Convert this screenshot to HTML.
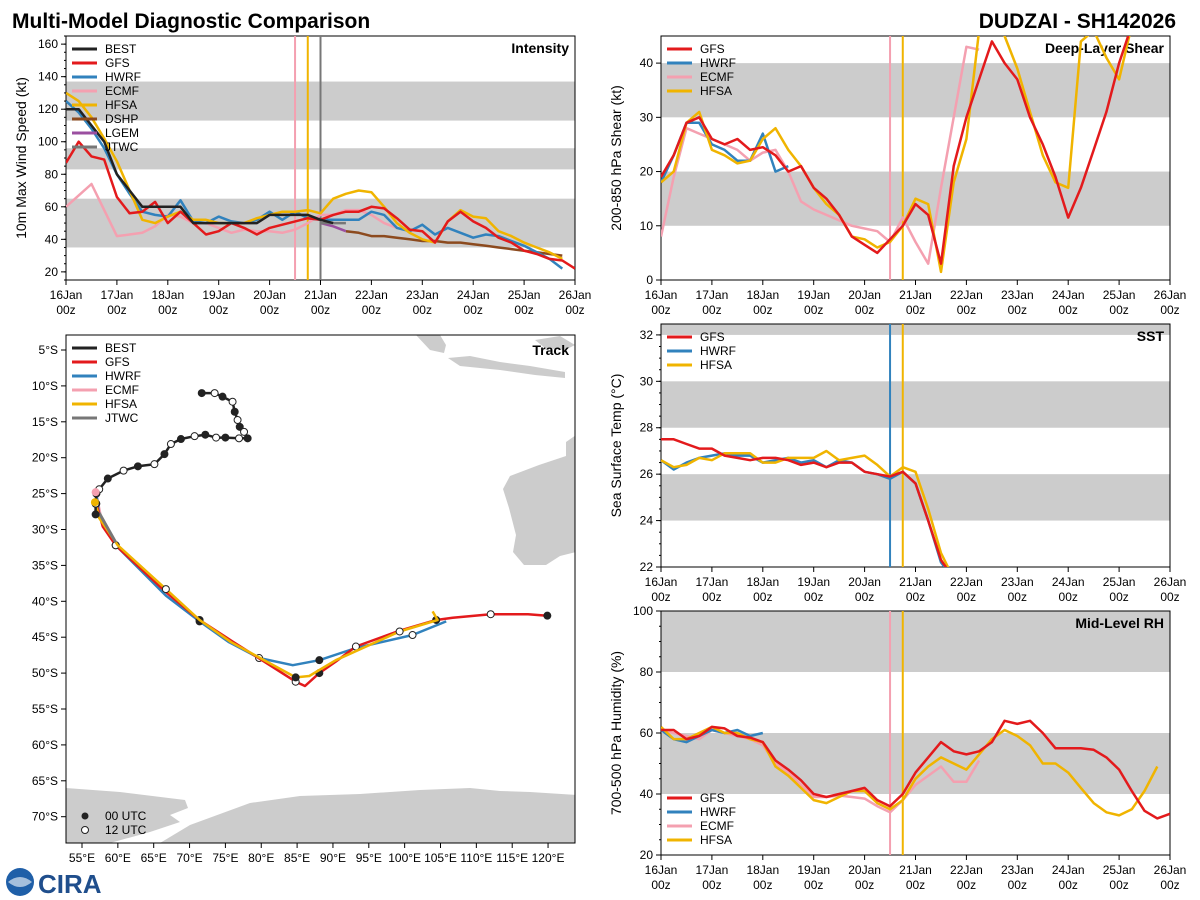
<!DOCTYPE html>
<html><head><meta charset="utf-8">
<style>
html,body{margin:0;padding:0;background:#fff;}
svg{display:block;font-family:"Liberation Sans","DejaVu Sans",sans-serif;}
</style></head>
<body>
<svg id="fig" width="1200" height="900" viewBox="0 0 1200 900" xmlns="http://www.w3.org/2000/svg">
<text x="12" y="28" font-size="21" font-weight="bold" fill="#000">Multi-Model Diagnostic Comparison</text>
<text x="1176" y="28" font-size="21" font-weight="bold" fill="#000" text-anchor="end">DUDZAI - SH142026</text>
<g id="layer"></g>
<g>
<circle cx="20" cy="882" r="14" fill="#1f5fa8"/>
<path d="M8 882 Q20 872 32 882 Q20 892 8 882" fill="#fff" opacity="0.6"/>
<text x="38" y="893" font-size="26" font-weight="bold" fill="#1f4e8c">CIRA</text>
</g>
</svg>
<script>
// ---------- DATA ----------
const days = ["16Jan","17Jan","18Jan","19Jan","20Jan","21Jan","22Jan","23Jan","24Jan","25Jan","26Jan"];
const intTicks = [20,40,60,80,100,120,140,160];
const intBEST = [120,120,110,100,80,70,60,60,60,60,50,50,50,50,50,50,55,55,55,55,52,50];
const intGFS = [87,100,91,89,66,56,57,63,50,57,50,43,45,50,47,43,47,49,51,53,52,55,57,57,60,59,53,46,45,38,51,57,51,47,41,38,33,31,28,27,22];
const intHWRF = [125,118,108,96,80,68,57,55,54,64,51,50,54,51,50,52,57,52,57,53,52,52,52,52,57,55,47,45,49,43,47,44,41,43,42,39,36,32,28,22];
const intECMF = [60,67,74,58,42,43,44,48,55,54,50,50,47,44,46,45,45,44,46,50,55,55,58,58,55,50,47];
const intHFSA = [130,125,115,102,88,70,52,50,54,57,52,52,50,50,50,53,55,57,57,58,56,65,68,70,69,60,50,44,40,38,51,58,54,53,45,42,38,35,32,28];
const intDSHP = [45,44,42,42,41,40,39,39,38,38,37,36,35,34,33,32,31,30];
const dshpStart = 5.5;
const intLGEM = [50,48,45];
const lgemStart = 5.0;
const intJTWC = [50,50,50];
const jtwcStart = 5.0;

const shrTicks = [0,10,20,30,40];
const shrGFS = [19,23,29,30,26,25,26,24,24.5,23,20,21,17,15,12,8,6.5,5,7.5,10,14,12,3,21,30,37,44,40,37,30,25,19,11.5,17,24,31,40,47];
const shrHWRF = [18,23,29,29,25,24,22,22,27,20,21];
const shrECMF = [8,19,28,27,26,25,24,22,23.5,24,20,14.5,13,12,11,10,9.5,9,7,11.5,7,3,17,30,43,42.5];
const shrHFSA = [18,20,29,31,24,23,21.5,22,26,28,24,21,17,14,12,8,7.5,6,7,10,15,14,1.5,18,26,46,49,45,39,31,23,18,17,44,46,41,37,47];

const sstTicks = [22,24,26,28,30,32];
const sstGFS = [27.5,27.5,27.3,27.1,27.1,26.8,26.7,26.6,26.7,26.7,26.6,26.4,26.5,26.3,26.5,26.5,26.1,26.0,25.9,26.1,25.6,24,22.3,21.5];
const sstHWRF = [26.6,26.2,26.5,26.7,26.8,26.9,26.8,26.8,26.5,26.6,26.7,26.5,26.6,26.3,26.6,26.5,26.1,26.0,25.8,26.1,25.6,24,22.2,21.5];
const sstHFSA = [26.6,26.3,26.4,26.7,26.6,26.9,26.9,26.9,26.5,26.5,26.7,26.7,26.7,27.0,26.6,26.7,26.8,26.4,25.9,26.3,26.1,24.5,22.6,21.5];

const rhTicks = [20,40,60,80,100];
const rhGFS = [61,61,58,59,62,61.5,59,58.5,57,51,48,44.5,40,39,40,41,42,38,36,40,47,52,57,54,53,54,57,64,63,64,60,55,55,55,54.5,52,48,41,34.5,32,33.5];
const rhHWRF = [61,58,57,59,61,60,61,59,60];
const rhECMF = [61,60,59,58,61,60,59,58,56,50,47,43,39,39,39.5,39,38.5,36,34,38,43,46,49,44,44,51];
const rhHFSA = [62,58,58,60,62,60,60,58,57,49,46,42,38,37,39,41,41,37,35,38,45,49,52,50,48,53,58,61,59,56,50,50,47,42,37,34,33,35,41,49];

const lonTicks = [55,60,65,70,75,80,85,90,95,100,105,110,115,120];
const latTicks = [5,10,15,20,25,30,35,40,45,50,55,60,65,70];
const trkBESTlon = [71.7,73.5,74.6,76.0,76.3,76.7,77.0,77.6,78.1,76.9,75.0,73.7,72.2,70.7,68.8,67.4,66.5,65.1,62.8,60.8,58.6,57.4,57.0,56.9,56.9];
const trkBESTlat = [11.0,11.0,11.5,12.2,13.6,14.75,15.7,16.4,17.3,17.3,17.2,17.2,16.8,17.0,17.4,18.1,19.5,20.9,21.2,21.8,22.9,24.4,25.0,26.4,27.9];
const trkGFSlon = [57.0,57.9,59.7,66.7,71.4,76.0,84.8,86.1,88.1,90.4,93.2,99.3,104.4,106.7,112.0,117.2,119.9];
const trkGFSlat = [26.4,29.6,32.2,38.7,42.6,45.6,51.2,51.8,50.0,48.4,46.3,44.1,42.6,42.3,41.8,41.8,42.0];
const trkHWRFlon = [57.0,57.4,59.7,66.7,71.4,75.5,79.7,84.4,88.1,93.2,101.1,105.8];
const trkHWRFlat = [25.0,27.9,32.2,39.2,42.8,45.7,47.9,48.9,48.2,46.5,44.7,42.8];
const trkHFSAlon = [56.9,57.4,60.0,66.7,71.4,75.8,84.8,86.7,90.4,99.3,104.6,103.9];
const trkHFSAlat = [26.4,28.4,32.2,38.3,42.6,45.7,50.6,50.4,48.2,44.2,42.6,41.4];
const trkECMFlon = [57.0,57.9,59.7,60.2];
const trkECMFlat = [25.0,29.6,32.2,32.3];
const trkJTWClon = [57.4,59.7];
const trkJTWClat = [27.7,31.8];

// ---------- DRAW ----------
const NS="http://www.w3.org/2000/svg";
const layer=document.getElementById('layer');
const C={BEST:'#222222',GFS:'#e31a1c',HWRF:'#3182bd',ECMF:'#f4a0b0',HFSA:'#f0b400',DSHP:'#8c4a1e',LGEM:'#9b4fa0',JTWC:'#777777'};
function mk(tag,attrs,parent){const e=document.createElementNS(NS,tag);for(const k in attrs)e.setAttribute(k,attrs[k]);(parent||layer).appendChild(e);return e;}
function txt(x,y,s,attrs,parent){const t=mk('text',Object.assign({x:x,y:y,'font-size':12,fill:'#000'},attrs||{}),parent);t.textContent=s;return t;}

function panel(name,x0,x1,y0,y1,vmin,vmax,bands,ticks,ylabel,title,minorStep){
  const g=mk('g',{});
  
  
  const xs=d=>x0+(x1-x0)*d/10;
  const ys=v=>y1-(y1-y0)*(v-vmin)/(vmax-vmin);
  bands.forEach(b=>{
    const lo=Math.max(b[0],vmin),hi=Math.min(b[1],vmax);
    const r=mk('rect',{x:x0,y:ys(hi),width:x1-x0,height:ys(lo)-ys(hi),fill:'#cccccc'},g);
    
    
  });
  const frame=mk('rect',{x:x0,y:y0,width:x1-x0,height:y1-y0,fill:'none',stroke:'#000','stroke-width':1},g);
  
  
  days.forEach((d,i)=>{
    const x=xs(i);
    mk('line',{x1:x,y1:y1,x2:x,y2:y1+5,stroke:'#000'},g);
    const t=txt(x,y1+19,d,{'text-anchor':'middle'},g);
    
    
    txt(x,y1+34,'00z',{'text-anchor':'middle'},g);
  });
  if(minorStep){for(let v=Math.ceil(vmin/minorStep)*minorStep;v<=vmax;v+=minorStep){mk('line',{x1:x0-2,y1:ys(v),x2:x0,y2:ys(v),stroke:'#000'},g);}}
  ticks.forEach(v=>{
    mk('line',{x1:x0-5,y1:ys(v),x2:x0,y2:ys(v),stroke:'#000'},g);
    const t=txt(x0-8,ys(v)+4,String(v),{'text-anchor':'end'},g);
    
    
  });
  const yl=txt(0,0,ylabel,{'text-anchor':'middle','font-size':14,transform:`translate(${x0-40},${(y0+y1)/2}) rotate(-90)`},g);
  
  
  const tt=txt(x1-6,y0+17,title,{'text-anchor':'end','font-size':14,'font-weight':'bold'},g);
  
  
  const clipId='clip-'+name;
  const cp=mk('clipPath',{id:clipId},g);mk('rect',{x:x0,y:y0,width:x1-x0,height:y1-y0},cp);
  const pg=mk('g',{'clip-path':`url(#${clipId})`},g);
  return {xs,ys,g,pg,x0,y0,y1};
}
function series(P,vals,color,nm,start){
  start=start||0;
  const pts=vals.map((v,i)=>P.xs(start+i*0.25).toFixed(1)+','+P.ys(v).toFixed(1)).join(' ');
  const l=mk('polyline',{points:pts,fill:'none',stroke:color,'stroke-width':2.5,'stroke-linejoin':'round'},P.pg);
  
  
}
function vline(P,day,color){
  const x=P.xs(day);
  const l=mk('line',{x1:x,y1:P.y0,x2:x,y2:P.y1,stroke:color,'stroke-width':2},P.pg);
  
  
}
function legend(P,names,x,y){
  const g=mk('g',{},P.g);
  
  
  names.forEach((n,i)=>{
    const yy=y+i*14;
    mk('line',{x1:x,y1:yy,x2:x+25,y2:yy,stroke:C[n],'stroke-width':3},g);
    const t=txt(x+33,yy+4,n,{},g);
    
    
  });
}

// Intensity
const PI=panel('intensity',66,575,36,280,15,165,[[35,65],[83,96],[113,137]],intTicks,'10m Max Wind Speed (kt)','Intensity',5);
vline(PI,4.5,C.ECMF);vline(PI,4.75,C.HFSA);vline(PI,5.0,C.JTWC);
series(PI,intECMF,C.ECMF,'ecmf');
series(PI,intDSHP,C.DSHP,'dshp',dshpStart);
series(PI,intLGEM,C.LGEM,'lgem',lgemStart);
series(PI,intJTWC,C.JTWC,'jtwc',jtwcStart);
series(PI,intHWRF,C.HWRF,'hwrf');
series(PI,intHFSA,C.HFSA,'hfsa');
series(PI,intGFS,C.GFS,'gfs');
series(PI,intBEST,C.BEST,'best');
legend(PI,['BEST','GFS','HWRF','ECMF','HFSA','DSHP','LGEM','JTWC'],72,49);

// Shear
const PS=panel('shear',661,1170,36,280,0,45,[[10,20],[30,40]],shrTicks,'200-850 hPa Shear (kt)','Deep-Layer Shear',0);
vline(PS,4.5,C.ECMF);vline(PS,4.75,C.HFSA);
series(PS,shrECMF,C.ECMF,'ecmf');
series(PS,shrHWRF,C.HWRF,'hwrf');
series(PS,shrHFSA,C.HFSA,'hfsa');
series(PS,shrGFS,C.GFS,'gfs');
legend(PS,['GFS','HWRF','ECMF','HFSA'],667,49);

// SST
const PT=panel('sst',661,1170,324,567,22,32.47,[[24,26],[28,30],[32,33]],sstTicks,'Sea Surface Temp (°C)','SST',0.5);
vline(PT,4.5,C.HWRF);vline(PT,4.75,C.HFSA);
series(PT,sstHWRF,C.HWRF,'hwrf');
series(PT,sstHFSA,C.HFSA,'hfsa');
series(PT,sstGFS,C.GFS,'gfs');
legend(PT,['GFS','HWRF','HFSA'],667,337);

// RH
const PR=panel('rh',661,1170,611,855,20,100,[[40,60],[80,100]],rhTicks,'700-500 hPa Humidity (%)','Mid-Level RH',5);
vline(PR,4.5,C.ECMF);vline(PR,4.75,C.HFSA);
series(PR,rhECMF,C.ECMF,'ecmf');
series(PR,rhHWRF,C.HWRF,'hwrf');
series(PR,rhHFSA,C.HFSA,'hfsa');
series(PR,rhGFS,C.GFS,'gfs');
legend(PR,['GFS','HWRF','ECMF','HFSA'],667,798);

// Track map
(function(){
  const x0=66,x1=575,y0=335,y1=843;
  const g=mk('g',{});
  
  
  const lx=lon=>82+(lon-55)*7.17;
  const ly=lat=>350+(lat-5)*7.18;
  const cp=mk('clipPath',{id:'clip-map'},g);mk('rect',{x:x0,y:y0,width:x1-x0,height:y1-y0},cp);
  const mg=mk('g',{'clip-path':'url(#clip-map)'},g);
  const land=[
   "576,435 566,442 566,456 539,465 510,476 503,489 509,508 516,535 513,552 524,565 546,565 560,556 576,552",
   "416,335 440,335 446,345 444,353 430,350",
   "448,358 470,356 500,362 530,366 565,372 565,378 535,375 500,370 460,366",
   "535,340 560,336 575,345 565,350 545,348",
   "66,788 120,792 185,800 188,808 170,815 180,822 150,832 110,843 66,843",
   "160,843 190,825 250,803 300,796 360,794 420,790 470,788 500,791 530,792 576,795 576,843"
  ];
  land.forEach(p=>{const e=mk('polygon',{points:p,fill:'#cccccc'},mg);});
  function trk(lons,lats,color,nm,w,marks){
    const pts=lons.map((v,i)=>lx(v).toFixed(1)+','+ly(lats[i]).toFixed(1)).join(' ');
    const l=mk('polyline',{points:pts,fill:'none',stroke:color,'stroke-width':w,'stroke-linejoin':'round'},mg);
    
    
    if(marks){lons.forEach((v,i)=>{if(i%marks)return;const c=mk('circle',{cx:lx(v),cy:ly(lats[i]),r:3.5,fill:(i/marks)%2?'#fff':'#222',stroke:'#222','stroke-width':1},mg);});}
  }
  trk(trkECMFlon,trkECMFlat,C.ECMF,'ecmf',2.5,0);
  trk(trkHWRFlon,trkHWRFlat,C.HWRF,'hwrf',2.5,2);
  trk(trkGFSlon,trkGFSlat,C.GFS,'gfs',2.5,2);
  trk(trkHFSAlon,trkHFSAlat,C.HFSA,'hfsa',2.5,3);
  trk(trkJTWClon,trkJTWClat,C.JTWC,'jtwc',3,0);
  trk(trkBESTlon,trkBESTlat,C.BEST,'best',2.5,1);
  mk('circle',{cx:lx(56.9),cy:ly(24.8),r:4,fill:C.ECMF},mg);
  mk('circle',{cx:lx(56.8),cy:ly(26.2),r:4,fill:C.HFSA},mg);
  mk('rect',{x:x0,y:y0,width:x1-x0,height:y1-y0,fill:'none',stroke:'#000'},g);
  lonTicks.forEach(v=>{const x=lx(v);mk('line',{x1:x,y1:y1,x2:x,y2:y1+5,stroke:'#000'},g);const t=txt(x,y1+19,v+'°E',{'text-anchor':'middle'},g);});
  latTicks.forEach(v=>{const y=ly(v);mk('line',{x1:x0-5,y1:y,x2:x0,y2:y,stroke:'#000'},g);const t=txt(x0-8,y+4,v+'°S',{'text-anchor':'end'},g);});
  const tt=txt(x1-6,y0+20,'Track',{'text-anchor':'end','font-size':14,'font-weight':'bold'},g);
  
  
  const lg=mk('g',{},g);
  
  
  ['BEST','GFS','HWRF','ECMF','HFSA','JTWC'].forEach((n,i)=>{const yy=348+i*14;mk('line',{x1:72,y1:yy,x2:97,y2:yy,stroke:C[n],'stroke-width':3},lg);const t=txt(105,yy+4,n,{},lg);});
  mk('circle',{cx:85,cy:816,r:3.5,fill:'#222'},lg);txt(105,820,'00 UTC',{},lg);
  mk('circle',{cx:85,cy:830,r:3.5,fill:'#fff',stroke:'#222'},lg);txt(105,834,'12 UTC',{},lg);
})();
</script>
</body></html>
